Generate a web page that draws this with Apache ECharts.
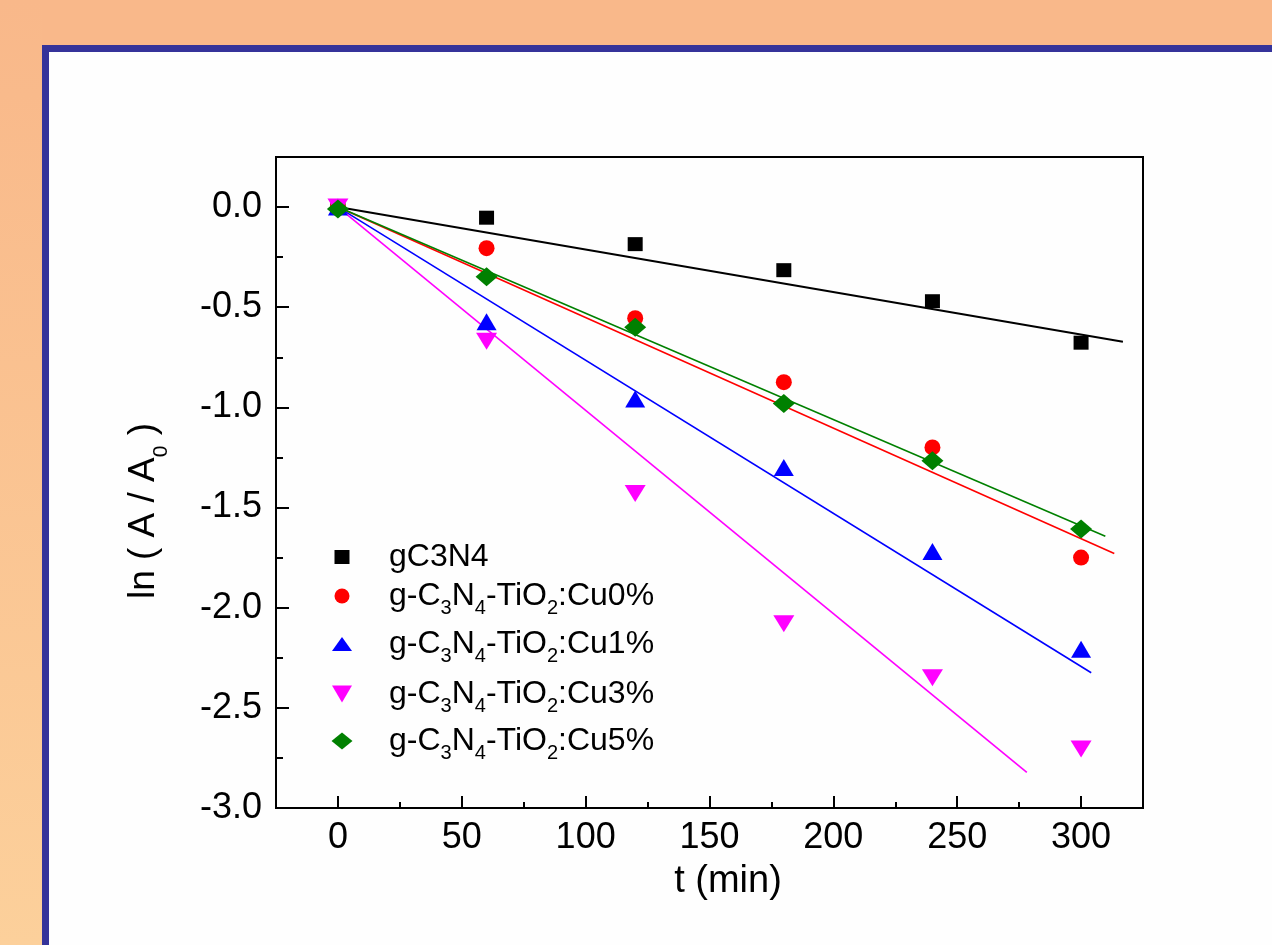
<!DOCTYPE html>
<html>
<head>
<meta charset="utf-8">
<script src="https://cdn.jsdelivr.net/npm/echarts@6/dist/echarts.min.js"></script>
<style>
html,body{margin:0;padding:0;background:#F9B88A;}
#c{width:1272px;height:945px;}
</style>
</head>
<body>
<div id="c"></div>
<script>
// ---- data ----
const times = [0, 60, 120, 180, 240, 300];
const seriesNames = ['gC3N4', 'g-C3N4-TiO2:Cu0%', 'g-C3N4-TiO2:Cu1%', 'g-C3N4-TiO2:Cu3%', 'g-C3N4-TiO2:Cu5%'];
const legendLabels = [
  '{m|gC3N4}',
  '{m|g-C}{s|3}{m|N}{s|4}{m|-TiO}{s|2}{m|:Cu0%}',
  '{m|g-C}{s|3}{m|N}{s|4}{m|-TiO}{s|2}{m|:Cu1%}',
  '{m|g-C}{s|3}{m|N}{s|4}{m|-TiO}{s|2}{m|:Cu3%}',
  '{m|g-C}{s|3}{m|N}{s|4}{m|-TiO}{s|2}{m|:Cu5%}'
];
const gC3N4 = [0, -0.053, -0.185, -0.315, -0.47, -0.677];
const cu0 = [0, -0.205, -0.555, -0.874, -1.20, -1.75];
const cu1 = [0, -0.573, -0.958, -1.30, -1.72, -2.207];
const cu3 = [0, -0.67, -1.43, -2.08, -2.35, -2.706];
const cu5 = [-0.01, -0.348, -0.60, -0.98, -1.267, -1.607];
// linear fits: start (t=0) and end points
const fitStartY = [0, 0, 0, 0, 0];
const fitEndT = [316.9, 313.4, 304.1, 278.1, 309.8];
const fitEndY = [-0.672, -1.729, -2.325, -2.822, -1.643];
const xTickValues = [0, 50, 100, 150, 200, 250, 300];
const xMinorValues = [25, 75, 125, 175, 225, 275];
const yTickValues = [0, -0.5, -1.0, -1.5, -2.0, -2.5, -3.0];
const yMinorValues = [-0.25, -0.75, -1.25, -1.75, -2.25, -2.75];

// ---- styling ----
const FONT = "'Liberation Sans', Arial, sans-serif";
const colors = ['#000000', '#FF0000', '#0000FF', '#FF00FF', '#008000'];
const symbols = ['rect', 'circle', 'triangle', 'triangle', 'diamond'];
const symbolSizes = [[15, 14], 16, [20, 17], [21, 17], [22, 19]];
const symbolRotates = [0, 0, 0, 180, 0];
const legendIcons = ['rect', 'circle', 'triangle', 'path://M0,0L20,0L10,17Z', 'diamond'];
const legendIconW = [15, 15, 20, 20, 21];
const legendIconH = [14, 15, 14, 17, 17];
const legendRowY = [563, 602, 650, 700, 747];
const legendMarkerX = 342;
const legendTextX = 389;

const values = [gC3N4, cu0, cu1, cu3, cu5];

const series = [];
values.forEach((vals, i) => {
  series.push({
    name: 'fit-' + seriesNames[i],
    type: 'line',
    data: [[0, fitStartY[i]], [fitEndT[i], fitEndY[i]]],
    showSymbol: false,
    symbol: 'none',
    lineStyle: { color: colors[i], width: i === 0 ? 2 : 1.6 },
    z: 2,
    silent: true
  });
});
values.forEach((vals, i) => {
  series.push({
    name: seriesNames[i],
    type: 'scatter',
    data: times.map((t, k) => [t, vals[k]]),
    symbol: symbols[i],
    symbolSize: symbolSizes[i],
    symbolRotate: symbolRotates[i],
    itemStyle: { color: colors[i], opacity: 1 },
    z: 3
  });
});

const legends = seriesNames.map((n, i) => {
  const w = legendIconW[i], h = legendIconH[i];
  const sp = legendTextX - (legendMarkerX + w / 2) - 5;
  return {
    data: [{ name: n, icon: legendIcons[i] }],
    orient: 'horizontal',
    left: legendMarkerX - w / 2,
    top: legendRowY[i] - 22,
    padding: 0,
    itemWidth: w,
    itemHeight: h,
    selectedMode: false,
    formatter: () => '{sp|}' + legendLabels[i],
    textStyle: {
      color: '#000',
      fontSize: 32,
      fontFamily: FONT,
      rich: {
        sp: { width: sp, lineHeight: 44, verticalAlign: 'middle' },
        m: { fontSize: 32, fontFamily: FONT, color: '#000', lineHeight: 44, verticalAlign: 'middle' },
        s: { fontSize: 20, fontFamily: FONT, color: '#000', lineHeight: 16, verticalAlign: 'bottom' }
      }
    }
  };
});

const axisCommon = {
  type: 'value',
  splitLine: { show: false }
};

const option = {
  animation: false,
  backgroundColor: '#F9B88A',
  graphic: [
    { type: 'rect', z: -10, silent: true, shape: { x: 0, y: 0, width: 42, height: 945 },
      style: { fill: new echarts.graphic.LinearGradient(0, 0, 0, 1, [
        { offset: 0, color: '#F9B88A' }, { offset: 0.1, color: '#F9BA8B' }, { offset: 1, color: '#FCD09B' }]) } },
    { type: 'rect', z: -10, silent: true, shape: { x: 49, y: 52, width: 1223, height: 893 }, style: { fill: '#FEFEFE' } },
    { type: 'rect', z: -10, silent: true, shape: { x: 42, y: 45, width: 1230, height: 7 }, style: { fill: '#35339A' } },
    { type: 'rect', z: -10, silent: true, shape: { x: 42, y: 45, width: 7, height: 900 }, style: { fill: '#35339A' } },
    { type: 'text', z: 10, x: 728, y: 882, silent: true,
      style: { text: 't (min)', fontSize: 38, fontFamily: FONT, fill: '#000', align: 'center', verticalAlign: 'middle' } },
    { type: 'text', z: 10, x: 144, y: 511, rotation: Math.PI / 2, silent: true,
      style: { text: '{m|ln ( A / A}{s|0}{m| )}', fontSize: 37, fontFamily: FONT, fill: '#000', align: 'center', verticalAlign: 'middle',
        rich: {
          m: { fontSize: 37, fontFamily: FONT, fill: '#000', lineHeight: 56, verticalAlign: 'middle' },
          s: { fontSize: 21, fontFamily: FONT, fill: '#000', lineHeight: 12, verticalAlign: 'bottom' }
        } } }
  ],
  grid: { left: 276, top: 157, width: 867, height: 651, show: true, borderColor: '#000', borderWidth: 2, backgroundColor: 'rgba(0,0,0,0)' },
  legend: legends,
  xAxis: [
    Object.assign({}, axisCommon, {
      min: -25, max: 325, interval: 25, position: 'bottom',
      axisLine: { show: true, onZero: false, lineStyle: { color: '#000', width: 2 } },
      axisTick: { show: true, inside: true, length: 12, lineStyle: { color: '#000', width: 2 }, customValues: xTickValues },
      axisLabel: { show: true, customValues: xTickValues, margin: 12, fontSize: 36, color: '#000', fontFamily: FONT }
    }),
    Object.assign({}, axisCommon, {
      min: -25, max: 325, interval: 25, position: 'bottom',
      axisLine: { show: false, onZero: false },
      axisTick: { show: true, inside: true, length: 6, lineStyle: { color: '#000', width: 2 }, customValues: xMinorValues },
      axisLabel: { show: false }
    })
  ],
  yAxis: [
    Object.assign({}, axisCommon, {
      min: -3, max: 0.25, interval: 0.25, position: 'left',
      axisLine: { show: true, onZero: false, lineStyle: { color: '#000', width: 2 } },
      axisTick: { show: true, inside: true, length: 13, lineStyle: { color: '#000', width: 2 }, customValues: yTickValues },
      axisLabel: { show: true, customValues: yTickValues, margin: 14, fontSize: 36, color: '#000', fontFamily: FONT,
        formatter: v => Number(v).toFixed(1) }
    }),
    Object.assign({}, axisCommon, {
      min: -3, max: 0.25, interval: 0.25, position: 'left',
      axisLine: { show: false, onZero: false },
      axisTick: { show: true, inside: true, length: 7, lineStyle: { color: '#000', width: 2 }, customValues: yMinorValues },
      axisLabel: { show: false }
    })
  ],
  series: series
};

const chart = echarts.init(document.getElementById('c'), null, { renderer: 'canvas' });
chart.setOption(option);
</script>
</body>
</html>
